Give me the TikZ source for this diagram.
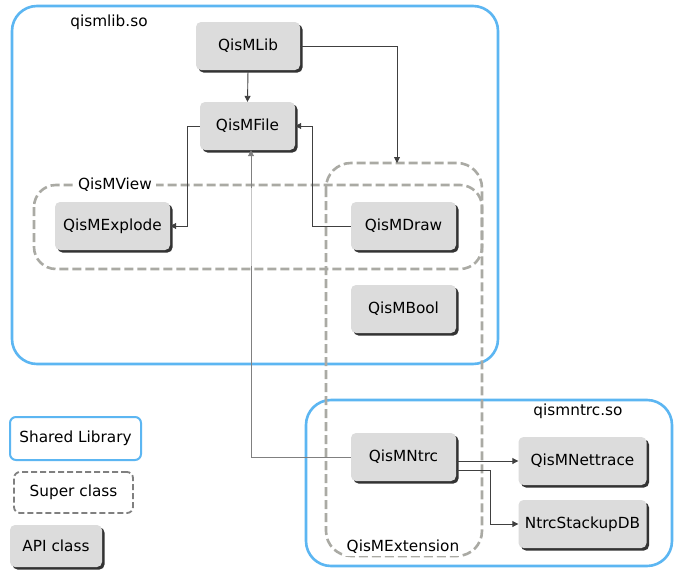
\documentclass[tikz,border=0pt]{standalone}
\usepackage{fontspec}
\setmainfont{DejaVu Sans}
\usetikzlibrary{arrows.meta,shadows}
\definecolor{libblue}{HTML}{5CB6F2}
\definecolor{supergray}{HTML}{AAAAA4}
\definecolor{apigray}{HTML}{DCDCDC}
\definecolor{conncol}{HTML}{404040}
\tikzset{
  api/.style={rectangle, rounded corners=5pt, fill=apigray, draw=none, inner sep=2pt,
    font=\fontsize{15.3}{18}\selectfont,
    drop shadow={shadow xshift=2.5pt, shadow yshift=-2.5pt, fill=black!80, opacity=1}},
  lib/.style={draw=libblue, line width=2.6pt, rounded corners=25pt},
  super/.style={draw=supergray, line width=2.6pt, dash pattern=on 9pt off 4pt},
  lbl/.style={font=\fontsize{15.3}{18}\selectfont, inner sep=2pt},
  conn/.style={draw=conncol, line width=0.9pt, -{Triangle[length=6pt,width=6pt]}},
}
\begin{document}
\begin{tikzpicture}[x=1pt,y=-1pt]
\useasboundingbox[fill=white] (0,0) rectangle (683,584);
% shared libraries
\draw[lib] (12,6) rectangle (498,364);
\draw[lib] (306,400) rectangle (672,566);
% super classes
\draw[super, rounded corners=22pt] (34,185) rectangle (482,269);
\draw[super, rounded corners=25pt] (326,163) rectangle (482,556);
% labels
\node[lbl] (liblbl) at (109,22) {qismlib.so};
\node[lbl] (ntrclbl) at (578,411) {qismntrc.so};
\node[lbl, fill=white, inner xsep=4pt] (viewlbl) at (115,185) {QisMView};
\node[lbl, fill=white, inner xsep=3pt] (extlbl) at (403,547) {QisMExtension};
% API classes
\node[api, minimum width=104pt, minimum height=48pt] (QisMLib) at (248,46) {QisMLib};
\node[api, minimum width=95pt, minimum height=48pt] (QisMFile) at (247.5,126) {QisMFile};
\node[api, minimum width=115pt, minimum height=48pt] (QisMExplode) at (112.5,226) {QisMExplode};
\node[api, minimum width=105pt, minimum height=48pt] (QisMDraw) at (403.5,226) {QisMDraw};
\node[api, minimum width=105pt, minimum height=48pt] (QisMBool) at (403.5,309) {QisMBool};
\node[api, minimum width=105pt, minimum height=48pt] (QisMNtrc) at (403.5,457) {QisMNtrc\hspace{10pt}};
\node[api, minimum width=128pt, minimum height=48pt] (QisMNettrace) at (582.5,461) {QisMNettrace};
\node[api, minimum width=128pt, minimum height=48pt] (NtrcStackupDB) at (582.5,524) {NtrcStackupDB};
% legend
\node[lbl, draw=libblue, line width=2pt, rounded corners=6pt, minimum width=131pt, minimum height=43pt] (legLib) at (75.5,438.5) {Shared Library};
\node[lbl, draw=black!50, line width=1.8pt, dash pattern=on 6pt off 3pt, rounded corners=6pt, minimum width=119pt, minimum height=41pt] (legSuper) at (73.5,492.5) {Super class};
\node[api, minimum width=92pt, minimum height=42pt] (legApi) at (56,546) {API class};
% connectors
\coordinate (extTop) at (397,163);
\draw[conn] (QisMLib.east) -| (extTop);
\draw[conn] (QisMLib.south) -- (QisMFile.north);
\draw[conn] (QisMFile.west) -- ++(-12,0) |- (QisMExplode.east);
\draw[conn] (QisMDraw.west) -- ++(-38,0) |- (QisMFile.east);
\draw[conn, draw=black!50] (QisMNtrc.west) -| ([xshift=3.5pt]QisMFile.south);
\draw[draw=white, opacity=0.55, line width=1.2pt] (251,188) -- (251,266);
\draw[conn] (QisMNtrc.east |- QisMNettrace.west) -- (QisMNettrace.west);
\draw[conn] ([yshift=-13pt]QisMNtrc.east) -- ++(34,0) |- (NtrcStackupDB.west);
\end{tikzpicture}
\end{document}
